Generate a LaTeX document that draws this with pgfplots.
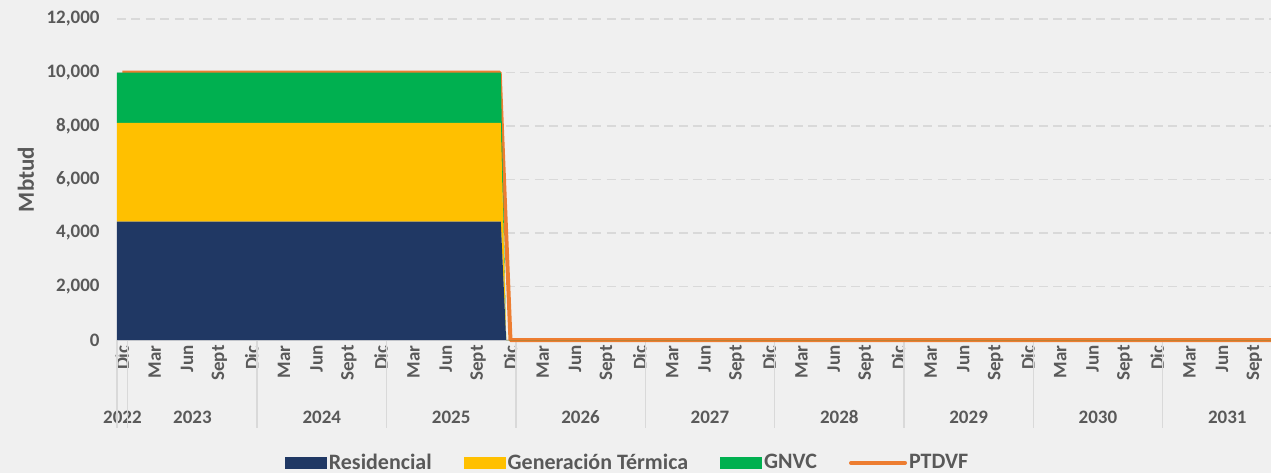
\documentclass[border=0pt]{standalone}
\usepackage{fontspec}
\setmainfont{Carlito}
\usepackage{pgfplots}
\pgfplotsset{compat=1.18}
\usetikzlibrary{backgrounds,calc}

\definecolor{bgc}{HTML}{F0F0F0}
\definecolor{gridc}{HTML}{D9D9D9}
\definecolor{txt}{HTML}{595959}
\definecolor{resid}{HTML}{203864}
\definecolor{termica}{HTML}{FFC000}
\definecolor{gnvc}{HTML}{00B050}
\definecolor{ptdvf}{HTML}{ED7D31}

\pgfplotsset{
    arealeg/.style={legend image code/.code={\fill[##1] (0pt,-3.2pt) rectangle (21pt,3.2pt);}},
    lineleg/.style={legend image code/.code={\draw[##1, line cap=round] (0pt,0pt) -- (27pt,0pt);}},
}

\begin{document}
\begin{tikzpicture}[year/.style={font=\fontsize{9.5}{11}\selectfont\bfseries, text=txt, yshift=-38.5pt}]
\begin{axis}[
    width=577pt, height=160.5pt, scale only axis,
    xmin=0, xmax=107.05, ymin=0, ymax=12000,
    clip=false,
    stack plots=y,
    axis x line*=bottom, axis y line*=left,
    x axis line style={draw=gridc, line width=0.7pt},
    y axis line style={draw=none},
    major tick length=0pt,
    ytick={0,2000,...,12000},
    scaled y ticks=false,
    ymajorgrids,
    major grid style={draw=gridc, dash pattern=on 4.5pt off 2.7pt, line width=0.7pt},
    /pgf/number format/assume math mode=true,
    /pgf/number format/1000 sep={,},
    tick label style={font=\fontsize{9.5}{11}\selectfont\bfseries, text=txt},
    yticklabel style={anchor=east, inner sep=0pt},
    yticklabel shift=8.5pt,
    xtick={0.5,3.5,...,105.5},
    xticklabels={Dic,Mar,Jun,Sept,Dic,Mar,Jun,Sept,Dic,Mar,Jun,Sept,
                 Dic,Mar,Jun,Sept,Dic,Mar,Jun,Sept,Dic,Mar,Jun,Sept,
                 Dic,Mar,Jun,Sept,Dic,Mar,Jun,Sept,Dic,Mar,Jun,Sept},
    xticklabel style={rotate=90, anchor=east, inner sep=0pt},
    xticklabel shift=2.5pt,
    ylabel={Mbtud},
    every axis y label/.style={at={(rel axis cs:0,0.5)}, xshift=-45.5pt, rotate=90, anchor=center,
        font=\fontsize{11.5}{13}\selectfont\bfseries, text=txt},
    legend style={at={(rel axis cs:0.4424,-0.383)}, anchor=center, draw=none, fill=none,
        legend columns=4, font=\fontsize{11}{13}\selectfont\bfseries, text=txt,
        /tikz/every even column/.append style={column sep=15pt},
        nodes={inner sep=1pt}},
    legend cell align=left,
]
\addplot[fill=resid, draw=none, arealeg]
    coordinates {(0,4430) (35.6,4430) (36.1,0) (107.05,0)} \closedcycle;
\addlegendentry{Residencial}
\addplot[fill=termica, draw=none, arealeg]
    coordinates {(0,3690) (35.6,3690) (36.1,0) (107.05,0)} \closedcycle;
\addlegendentry{Generación Térmica}
\addplot[fill=gnvc, draw=none, arealeg]
    coordinates {(0,1880) (35.6,1880) (36.1,0) (107.05,0)} \closedcycle;
\addlegendentry{GNVC}
\addplot[stack plots=false, draw=ptdvf, line width=2pt, line join=round, lineleg]
    coordinates {(0.5,10000) (35.5,10000) (36.5,0) (107.05,0)};
\addlegendentry{PTDVF}

% year group separators and labels
\pgfplotsinvokeforeach{0,1,13,25,37,49,61,73,85,97}{
    \draw[gridc, line width=0.7pt] (axis cs:#1,0) -- ++(0,-44pt);
}
\node[year] at (axis cs:0.5,0) {2022};
\node[year] at (axis cs:7,0) {2023};
\node[year] at (axis cs:19,0) {2024};
\node[year] at (axis cs:31,0) {2025};
\node[year] at (axis cs:43,0) {2026};
\node[year] at (axis cs:55,0) {2027};
\node[year] at (axis cs:67,0) {2028};
\node[year] at (axis cs:79,0) {2029};
\node[year] at (axis cs:91,0) {2030};
\node[year] at (axis cs:103,0) {2031};

\coordinate (bl) at (rel axis cs:0,0);
\coordinate (tr) at (rel axis cs:1,1);
\end{axis}
\begin{pgfonlayer}{background}
\fill[bgc] ($(bl)+(-58.5pt,-66.5pt)$) rectangle ($(tr)+(0,9.5pt)$);
\end{pgfonlayer}
\pgfresetboundingbox
\useasboundingbox ($(bl)+(-58.5pt,-66.5pt)$) rectangle ($(tr)+(0,9.5pt)$);
\end{tikzpicture}
\end{document}
